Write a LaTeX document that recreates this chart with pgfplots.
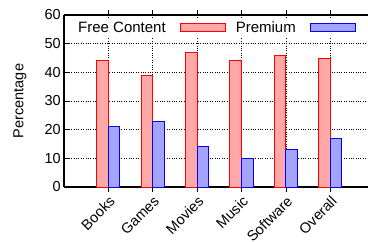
\documentclass[border=0pt]{standalone}
\usepackage{pgfplots}
\pgfplotsset{compat=1.18}
\usepackage{fontspec}
\setmainfont{Liberation Sans}
\definecolor{freefill}{RGB}{255,168,168}
\definecolor{premfill}{RGB}{164,164,255}
\begin{document}
\begin{tikzpicture}
\begin{axis}[
  scale only axis,
  width=304bp, height=172bp,
  xmin=-1, xmax=5.85,
  ymin=0, ymax=60,
  ytick={0,10,...,60},
  xtick={0,1,2,3,4,5},
  xticklabels={Books,Games,Movies,Music,Software,Overall},
  axis x line*=box,
  axis y line*=left,
  axis line style={line width=1.2bp},
  tick style={black, line width=0.8bp},
  major tick length=5bp,
  tick align=inside,
  xtick pos=both,
  ytick pos=left,
  grid=major,
  grid style={black, dotted, line width=0.6bp},
  font=\fontsize{14.5bp}{16bp}\selectfont,
  /pgf/number format/assume math mode=true,
  ylabel={Percentage},
  ylabel style={at={(axis description cs:-0.145,0.5)}, anchor=center, rotate=0},
  xticklabel style={rotate=45, anchor=north east, inner sep=2bp},
  yticklabel style={inner sep=3bp},
  ybar, bar width=0.26,
  legend plot pos=right,
  legend columns=-1,
  legend style={at={(0.5,0.985)}, anchor=north, draw=none, fill=white,
    font=\fontsize{15bp}{17bp}\selectfont,
    /tikz/every even column/.append style={column sep=8bp},
    /tikz/every odd column/.append style={column sep=12bp}},
  legend image code/.code={\draw[#1,/tikz/.cd,line width=1bp] (0bp,-4bp) rectangle (45bp,4bp);},
]
\addplot[bar shift=-0.13, draw=red, fill=freefill, line width=1bp] coordinates {(0,44) (1,39) (2,47) (3,44) (4,46) (5,45)};
\addplot[bar shift=0.13, draw=blue, fill=premfill, line width=1bp] coordinates {(0,21) (1,23) (2,14) (3,10) (4,13) (5,17)};
\legend{Free Content,Premium}
\end{axis}
\pgfresetboundingbox
\path[use as bounding box] ([xshift=-64bp,yshift=-55bp]current axis.south west) rectangle ([yshift=15bp]current axis.north east);
\end{tikzpicture}
\end{document}
